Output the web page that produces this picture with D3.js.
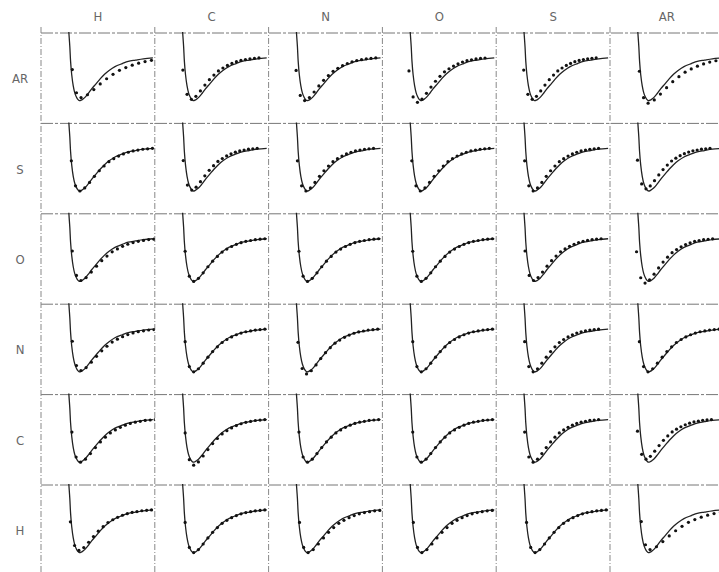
<!DOCTYPE html>
<html>
<head>
<meta charset="utf-8">
<script src="https://cdn.jsdelivr.net/npm/d3@7"></script>
<style>
  body { margin: 0; background: #fff; }
  svg { display: block; }
  .lab {
    font-family: "Liberation Sans Narrow", "DejaVu Sans Condensed", "Roboto Condensed", sans-serif;
    font-stretch: condensed;
    font-size: 13px;
    fill: #666;
  }
</style>
</head>
<body>
<svg id="chart" width="719" height="572"></svg>
<script>
// atom types, rows top to bottom, columns left to right
var rows = ["AR", "S", "O", "N", "C", "H"];
var cols = ["H", "C", "N", "O", "S", "AR"];

// fitted curve (distance in A, energy in units of well depth), same in every panel
var lineR = [3.40, 3.47, 3.52, 3.56, 3.62, 3.70, 3.78, 3.86, 3.94, 4.02, 4.12, 4.22, 4.33,
             4.50, 4.67, 4.90, 5.13, 5.35, 5.59, 5.90, 6.29, 6.60, 6.98, 7.40, 7.90];
var lineE = [1.10, 0.57, 0.25, -0.09, -0.40, -0.66, -0.82, -0.91, -0.97, -1.00, -0.99, -0.96, -0.92,
             -0.83, -0.73, -0.61, -0.49, -0.39, -0.30, -0.21, -0.14, -0.09, -0.06, -0.03, -0.01];
var rMin = 4.02;

// computed points (reference panel)
var dotR = [3.60, 3.82, 4.05, 4.30, 4.55, 4.80, 5.05, 5.30, 5.55, 5.80, 6.05, 6.30,
            6.55, 6.80, 7.05, 7.30, 7.55, 7.80];
var dotE = [-0.30, -0.88, -1.00, -0.93, -0.80, -0.66, -0.53, -0.42, -0.32, -0.25, -0.19, -0.14,
            -0.10, -0.07, -0.05, -0.03, -0.02, -0.01];

// per panel: shift of the points (A), widening of the well, depth of the points
var dotShift = [
  [0.05, -0.12, -0.15, -0.20, -0.15, -0.05],
  [0.00, -0.10, -0.08, -0.05, -0.10, -0.15],
  [0.05,  0.00,  0.00,  0.00, -0.08, -0.20],
  [0.05,  0.00, -0.05,  0.00, -0.10, -0.05],
  [0.03,  0.00,  0.00,  0.00, -0.10, -0.15],
  [-0.05, 0.00,  0.03,  0.03,  0.00,  0.05]
];
var dotWidth = [
  [1.35, 0.95, 1.00, 0.95, 0.90, 1.30],
  [1.02, 0.92, 0.95, 0.97, 0.92, 0.90],
  [1.10, 1.00, 1.00, 1.00, 0.95, 0.95],
  [1.10, 1.00, 1.00, 1.00, 0.92, 1.00],
  [1.05, 1.00, 1.00, 1.00, 0.92, 0.92],
  [1.02, 1.00, 1.08, 1.06, 1.00, 1.35]
];
var dotDepth = [
  [0.93, 0.97, 1.00, 1.04, 0.97, 1.06],
  [1.00, 0.98, 1.00, 1.00, 1.00, 0.95],
  [0.98, 1.00, 1.00, 1.00, 0.98, 1.04],
  [0.97, 1.00, 1.05, 1.00, 1.00, 1.00],
  [1.00, 1.07, 1.00, 1.00, 1.00, 0.93],
  [0.95, 1.00, 1.00, 1.00, 1.00, 0.93]
];

var svg = d3.select("#chart");
var pw = 113.8, ph = 90.4;
var colPos = d3.scaleLinear().domain([0, 6]).range([41, 41 + 6 * pw]);
var rowPos = d3.scaleLinear().domain([0, 6]).range([33, 33 + 6 * ph]);

var x = d3.scaleLinear().domain([2, 8]).range([0, pw]);
var y = d3.scaleLinear().domain([0.57, -1.53]).range([0, ph]);

var line = d3.line()
  .x(function(d) { return x(d[0]); })
  .y(function(d) { return y(d[1]); })
  .curve(d3.curveCatmullRom.alpha(0.5));
var lineData = lineR.map(function(r, i) { return [r, lineE[i]]; });

svg.append("defs").append("clipPath").attr("id", "panel")
  .append("rect").attr("x", 0).attr("y", -1).attr("width", pw).attr("height", ph + 1);

// grid frame: dash-dot zero lines and dotted column borders
svg.selectAll("line.h").data(d3.range(6)).enter().append("line")
  .attr("class", "h")
  .attr("x1", colPos(0)).attr("x2", 719)
  .attr("y1", function(d) { return rowPos(d); })
  .attr("y2", function(d) { return rowPos(d); })
  .attr("stroke", "#777").attr("stroke-width", 1)
  .attr("stroke-dasharray", "12,2,3,2");

svg.selectAll("line.v").data(d3.range(6)).enter().append("line")
  .attr("class", "v")
  .attr("x1", function(d) { return colPos(d); })
  .attr("x2", function(d) { return colPos(d); })
  .attr("y1", 27).attr("y2", 572)
  .attr("stroke", "#888").attr("stroke-width", 1)
  .attr("stroke-dasharray", "6,2,1,2");

// labels
svg.selectAll("text.col").data(cols).enter().append("text")
  .attr("class", "lab col")
  .attr("x", function(d, i) { return colPos(i) + pw / 2; })
  .attr("y", 21)
  .attr("text-anchor", "middle")
  .text(function(d) { return d; });

svg.selectAll("text.row").data(rows).enter().append("text")
  .attr("class", "lab row")
  .attr("x", 20)
  .attr("y", function(d, i) { return rowPos(i) + ph / 2 + 5; })
  .attr("text-anchor", "middle")
  .text(function(d) { return d; });

// panels
rows.forEach(function(rn, ri) {
  cols.forEach(function(cn, ci) {
    var g = svg.append("g")
      .attr("transform", "translate(" + colPos(ci) + "," + rowPos(ri) + ")");
    var inner = g.append("g").attr("clip-path", "url(#panel)");

    inner.append("path")
      .attr("d", line(lineData))
      .attr("fill", "none")
      .attr("stroke", "#222")
      .attr("stroke-width", 1.3);

    var s = dotShift[ri][ci], w = dotWidth[ri][ci], k = dotDepth[ri][ci];
    inner.selectAll("circle").data(dotR).enter().append("circle")
      .attr("cx", function(r) {
        var rr = r <= rMin ? r + s : rMin + s + (r - rMin) * w;
        return x(rr);
      })
      .attr("cy", function(r, i) { return y(dotE[i] * k); })
      .attr("r", 1.6)
      .attr("fill", "#111");
  });
});
</script>
</body>
</html>
